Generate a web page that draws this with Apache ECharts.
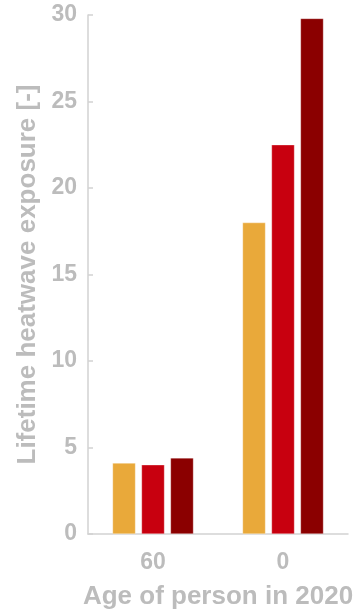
<!DOCTYPE html>
<html>
<head>
<meta charset="utf-8">
<script src="https://cdn.jsdelivr.net/npm/echarts@6/dist/echarts.min.js"></script>
<style>
  html, body { margin: 0; padding: 0; background: #fff; }
  #chart { width: 357px; height: 615px; }
</style>
</head>
<body>
<div id="chart"></div>
<script>
// Age groups (age of person in 2020)
const categories = ['60', '0'];
// Lifetime heatwave exposure per scenario
const scenarioLow = [4.1, 18.0];
const scenarioMid = [4.0, 22.5];
const scenarioHigh = [4.4, 29.8];
const yTicks = [0, 5, 10, 15, 20, 25, 30];

const textGray = '#bcbcbc';
const fontFamily = '"Liberation Sans", Arial, sans-serif';

const chart = echarts.init(document.getElementById('chart'), null, { renderer: 'canvas' });

function barSeries(data, color) {
  return {
    type: 'bar',
    data: data,
    barWidth: 23,
    barGap: '26%',
    itemStyle: { color: color, borderColor: 'rgba(255,255,255,0.6)', borderWidth: 0.5 },
    animation: false
  };
}

chart.setOption({
  animation: false,
  grid: { left: 88, right: 9, top: 15, bottom: 78, containLabel: false },
  xAxis: {
    type: 'category',
    data: categories,
    axisLine: { show: true, lineStyle: { color: '#d2d2d2', width: 1.5 } },
    axisTick: { show: false },
    axisLabel: { color: textGray, fontSize: 23, fontWeight: 'bold', fontFamily: fontFamily, margin: 17 },
    name: 'Age of person in 2020',
    nameLocation: 'middle',
    nameGap: 50,
    nameTextStyle: { color: textGray, fontSize: 26, fontWeight: 'bold', fontFamily: fontFamily }
  },
  yAxis: {
    type: 'value',
    min: yTicks[0],
    max: yTicks[yTicks.length - 1],
    interval: 5,
    axisLine: { show: true, lineStyle: { color: '#d2d2d2', width: 1.5 } },
    axisTick: { show: true, inside: true, length: 5, lineStyle: { color: '#d2d2d2', width: 1.5 } },
    splitLine: { show: false },
    axisLabel: { color: textGray, fontSize: 23, fontWeight: 'bold', fontFamily: fontFamily, margin: 11 },
    name: 'Lifetime heatwave exposure [-]',
    nameLocation: 'middle',
    nameGap: 44,
    nameTextStyle: { color: textGray, fontSize: 26, fontWeight: 'bold', fontFamily: fontFamily }
  },
  series: [
    barSeries(scenarioLow, '#e9a93a'),
    barSeries(scenarioMid, '#c8000f'),
    barSeries(scenarioHigh, '#8b0000')
  ]
});
</script>
</body>
</html>
